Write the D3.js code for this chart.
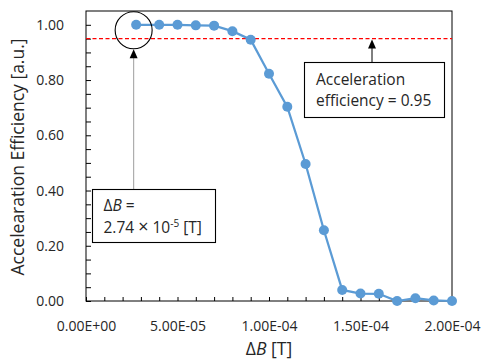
<!DOCTYPE html>
<html>
<head>
<meta charset="utf-8">
<script src="https://cdn.jsdelivr.net/npm/d3@7"></script>
<style>
  body { margin: 0; background: #fff; }
  svg text { font-family: "Open Sans", sans-serif; fill: #262626; }
</style>
</head>
<body>
<svg id="chart"></svg>
<script>
var w = 486,
    h = 362;

var margin = {top: 11, right: 34, bottom: 61, left: 86};

// data
var deltaB = [2.74e-5, 4e-5, 5e-5, 6e-5, 7e-5, 8e-5, 9e-5, 1.0e-4, 1.1e-4, 1.2e-4,
              1.3e-4, 1.4e-4, 1.5e-4, 1.6e-4, 1.7e-4, 1.8e-4, 1.9e-4, 2.0e-4];
var efficiency = [1.00, 1.00, 1.00, 0.998, 0.997, 0.977, 0.946, 0.823, 0.703, 0.496,
                  0.256, 0.040, 0.027, 0.026, 0.000, 0.010, 0.002, 0.000];

var xTickValues = [0, 5e-5, 1e-4, 1.5e-4, 2e-4];
var xTickLabels = ["0.00E+00", "5.00E-05", "1.00E-04", "1.50E-04", "2.00E-04"];
var yTickValues = [0, 0.2, 0.4, 0.6, 0.8, 1.0];
var yTickLabels = ["0.00", "0.20", "0.40", "0.60", "0.80", "1.00"];
var threshold = 0.95;

var svg = d3.select("#chart")
  .attr("width", w)
  .attr("height", h);

var x = d3.scaleLinear().domain([0, 2e-4]).range([margin.left, w - margin.right]);
var y = d3.scaleLinear().domain([0, 1.05]).range([h - margin.bottom, margin.top]);

// minor ticks, inside
var xMinor = d3.range(0, 21).map(function(i) { return i * 1e-5; });
var yMinor = d3.range(0, 21).map(function(i) { return i * 0.05; });

svg.append("g")
  .attr("transform", "translate(0," + y(0) + ")")
  .call(d3.axisBottom(x).tickValues(xMinor).tickSize(-4).tickFormat(""))
  .call(function(g) { g.select(".domain").remove(); });

svg.append("g")
  .attr("transform", "translate(" + x(0) + ",0)")
  .call(d3.axisLeft(y).tickValues(yMinor).tickSize(-5).tickFormat(""))
  .call(function(g) { g.select(".domain").remove(); });

// labelled axes
svg.append("g")
  .attr("class", "xaxis")
  .attr("transform", "translate(0," + y(0) + ")")
  .call(d3.axisBottom(x).tickValues(xTickValues).tickSize(0).tickPadding(20)
    .tickFormat(function(d, i) { return xTickLabels[i]; }))
  .call(function(g) { g.select(".domain").remove(); });

svg.append("g")
  .attr("class", "yaxis")
  .attr("transform", "translate(" + x(0) + ",0)")
  .call(d3.axisLeft(y).tickValues(yTickValues).tickSize(0).tickPadding(22)
    .tickFormat(function(d, i) { return yTickLabels[i]; }))
  .call(function(g) { g.select(".domain").remove(); });

svg.selectAll(".xaxis text, .yaxis text")
  .attr("fill", null)
  .style("font-size", "14px")
  .style("font-family", "'Open Sans', sans-serif");

svg.selectAll(".tick line").attr("stroke", "#000");

// plot frame
svg.append("rect")
  .attr("x", x(0))
  .attr("y", y(1.05))
  .attr("width", x(2e-4) - x(0))
  .attr("height", y(0) - y(1.05))
  .attr("fill", "none")
  .attr("stroke", "#000")
  .attr("stroke-width", 1);

// threshold line
svg.append("line")
  .attr("x1", x(0))
  .attr("x2", x(2e-4))
  .attr("y1", y(threshold))
  .attr("y2", y(threshold))
  .attr("stroke", "#ff0000")
  .attr("stroke-width", 1.25)
  .attr("stroke-dasharray", "4,2.5");

// series
var pts = deltaB.map(function(d, i) { return [d, efficiency[i]]; });

svg.append("path")
  .datum(pts)
  .attr("fill", "none")
  .attr("stroke", "#5b9bd5")
  .attr("stroke-width", 2.25)
  .attr("d", d3.line().x(function(d) { return x(d[0]); }).y(function(d) { return y(d[1]); }));

svg.append("g").selectAll("circle")
  .data(pts)
  .enter().append("circle")
  .attr("cx", function(d) { return x(d[0]); })
  .attr("cy", function(d) { return y(d[1]); })
  .attr("r", 5)
  .attr("fill", "#5b9bd5");

// annotation 1: circle + arrow + box
var cx = x(deltaB[0]) - 2.5,
    cy = y(efficiency[0]) + 5.5,
    cr = 18.5;

svg.append("circle")
  .attr("cx", cx)
  .attr("cy", cy)
  .attr("r", cr)
  .attr("fill", "none")
  .attr("stroke", "#000")
  .attr("stroke-width", 1.1);

var box1 = {x: 92.5, y: 189.5, w: 123, h: 53};

svg.append("line")
  .attr("x1", cx).attr("x2", cx)
  .attr("y1", box1.y).attr("y2", cy + cr + 8)
  .attr("stroke", "#a6a6a6")
  .attr("stroke-width", 1.1);

svg.append("path")
  .attr("d", "M" + cx + "," + (cy + cr + 0.5) + "l-4,9h8z")
  .attr("fill", "#000");

svg.append("rect")
  .attr("x", box1.x).attr("y", box1.y)
  .attr("width", box1.w).attr("height", box1.h)
  .attr("fill", "#fff")
  .attr("stroke", "#000")
  .attr("stroke-width", 1.1);

var t1 = svg.append("text")
  .attr("x", box1.x + 11)
  .attr("y", box1.y + 21.5)
  .style("font-size", "15.5px");
t1.append("tspan").text("\u0394");
t1.append("tspan").style("font-style", "italic").text("B");
t1.append("tspan").text(" =");

var t2 = svg.append("text")
  .attr("x", box1.x + 11)
  .attr("y", box1.y + 43.5)
  .style("font-size", "15.5px");
t2.append("tspan").text("2.74 ");
t2.append("tspan").style("font-size", "18px").text("\u00d7");
t2.append("tspan").text(" 10");
t2.append("tspan").attr("dy", -6).style("font-size", "10px").text("-5");
t2.append("tspan").attr("dy", 6).text(" [T]");

// annotation 2: box + arrow to threshold line
var box2 = {x: 304.5, y: 62.5, w: 140, h: 55};
var ax = 372;

svg.append("line")
  .attr("x1", ax).attr("x2", ax)
  .attr("y1", box2.y).attr("y2", y(threshold) + 8)
  .attr("stroke", "#000")
  .attr("stroke-width", 1);

svg.append("path")
  .attr("d", "M" + ax + "," + (y(threshold) + 1) + "l-4,9h8z")
  .attr("fill", "#000");

svg.append("rect")
  .attr("x", box2.x).attr("y", box2.y)
  .attr("width", box2.w).attr("height", box2.h)
  .attr("fill", "#fff")
  .attr("stroke", "#000")
  .attr("stroke-width", 1.1);

svg.append("text")
  .attr("x", box2.x + 11.5)
  .attr("y", box2.y + 22.5)
  .style("font-size", "15.5px")
  .text("Acceleration");

svg.append("text")
  .attr("x", box2.x + 11.5)
  .attr("y", box2.y + 43.5)
  .style("font-size", "15.5px")
  .text("efficiency = 0.95");

// axis titles
var xt = svg.append("text")
  .attr("x", (x(0) + x(2e-4)) / 2)
  .attr("y", 355)
  .attr("text-anchor", "middle")
  .style("font-size", "17.5px");
xt.append("tspan").text("\u0394");
xt.append("tspan").style("font-style", "italic").text("B");
xt.append("tspan").text(" [T]");

svg.append("text")
  .attr("transform", "translate(23.5,157)rotate(-90)")
  .attr("text-anchor", "middle")
  .style("font-size", "17.5px")
  .text("Accelearation Efficiency [a.u.]");
</script>
</body>
</html>
